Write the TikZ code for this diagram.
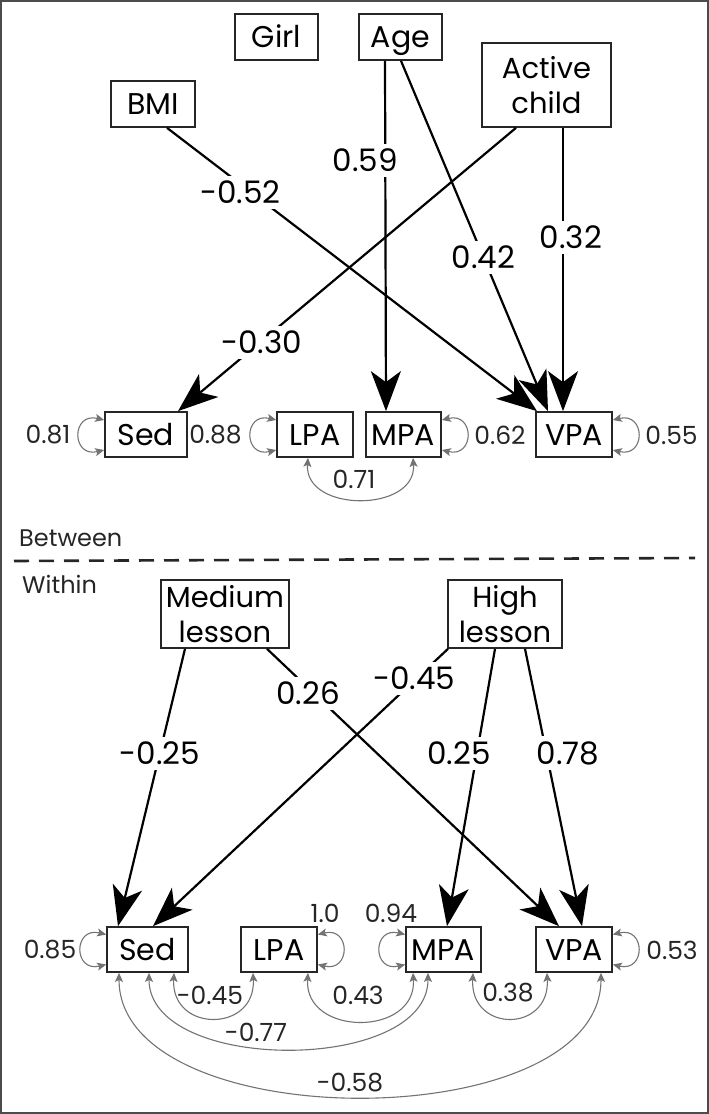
\documentclass[tikz,border=0pt]{standalone}
\usepackage{fontspec}
\setmainfont{Poppins}
\usetikzlibrary{arrows.meta,calc}
\begin{document}
\begin{tikzpicture}[x=1pt,y=-1pt,
  box/.style={draw=black!85, line width=1.7pt, inner sep=0pt, align=center,
    font=\fontsize{30}{35}\selectfont, text height=21pt, text depth=0pt},
  tbox/.style={draw=black!85, line width=1.7pt, inner sep=0pt, align=center,
    font=\fontsize{29}{35}\selectfont},
  sbox/.style={box, minimum width=#1, minimum height=45pt},
  pth/.style={draw=black, line width=2.2pt, -{Stealth[length=40pt,width=30pt,inset=11pt]}},
  cov/.style={draw=black!55, line width=1.1pt,
    {Stealth[length=9pt,width=8pt,inset=2pt]}-{Stealth[length=9pt,width=8pt,inset=2pt]}},
  lab/.style={fill=white, inner sep=5pt, font=\fontsize{31}{31}\selectfont},
  slab/.style={inner sep=0pt, font=\fontsize{25}{25}\selectfont, text=black!85},
]
\useasboundingbox (0,0) rectangle (709,1114);
\draw[black!70, line width=1.5pt] (1,1) rectangle (708,1113);

% ---------- Between level ----------
\node[box, minimum width=83pt, minimum height=46pt] (girl) at (276.5,37) {Girl};
\node[box, minimum width=83pt, minimum height=46pt] (age) at (400.5,37) {Age};
\node[box, minimum width=84pt, minimum height=46pt] (bmi) at (153,104) {BMI};
\node[tbox, minimum width=129pt, minimum height=84pt] (act) at (546.5,85) {Active\\child};

\node[sbox=82pt] (sed1) at (146,434.5) {Sed};
\node[sbox=76pt] (lpa1) at (315,434.5) {LPA};
\node[sbox=75pt] (mpa1) at (403.5,434.5) {MPA};
\node[sbox=76pt] (vpa1) at (574,434.5) {VPA};

\draw[pth] ([xshift=-15.5pt]age.south) -- node[lab, pos=0.284, xshift=-20pt] {0.59} ([xshift=-17.5pt]mpa1.north);
\draw[pth] ([xshift=0.5pt]age.south) -- node[lab, pos=0.56] {0.42} ([xshift=-26pt]vpa1.north);
\draw[pth] ([xshift=16.5pt]act.south) -- node[lab, pos=0.386, xshift=8pt] {0.32} ([xshift=-11pt]vpa1.north);
\draw[pth] ([xshift=-30.5pt]act.south) -- node[lab, pos=0.758, xshift=2pt] {-0.30} ([xshift=32pt]sed1.north);
\draw[pth] ([xshift=14pt]bmi.south) -- node[lab, pos=0.228, xshift=-11pt] {-0.52} ([xshift=-37pt]vpa1.north);

\draw[cov] ([yshift=14.5pt]sed1.west) .. controls +(-33,-8) and +(-33,8) .. ([yshift=-15.5pt]sed1.west);
\draw[cov] ([yshift=14.5pt]lpa1.west) .. controls +(-33,-8) and +(-33,8) .. ([yshift=-15.5pt]lpa1.west);
\draw[cov] ([yshift=14.5pt]mpa1.east) .. controls +(33,-8) and +(33,8) .. ([yshift=-15.5pt]mpa1.east);
\draw[cov] ([yshift=14.5pt]vpa1.east) .. controls +(33,-8) and +(33,8) .. ([yshift=-15.5pt]vpa1.east);
\draw[cov] ([xshift=-7pt]lpa1.south) .. controls +(-4,55) and +(4,55) .. ([xshift=9.5pt]mpa1.south);

\node[slab] (r1) at (48,435) {0.81};
\node[slab] (r2) at (215.5,435) {0.88};
\node[slab] (r3) at (500,435) {0.62};
\node[slab] (r4) at (671.5,435) {0.55};
\node[slab] (c1) at (354,479) {0.71};

% ---------- divider ----------
\node[slab, anchor=west, font=\fontsize{24}{24}\selectfont] (between) at (19,538) {Between};
\coordinate (dl) at (14,561);
\coordinate (dr) at (695,558);
\draw[black!85, line width=2.6pt, dash pattern=on 15pt off 10pt] (dl) -- (dr);
\node[slab, anchor=west, font=\fontsize{24}{24}\selectfont] (within) at (22,584) {Within};

% ---------- Within level ----------
\node[tbox, minimum width=128pt, minimum height=68pt] (med) at (225,614) {Medium\\lesson};
\node[tbox, minimum width=114pt, minimum height=68pt] (high) at (505,614) {High\\lesson};

\node[sbox=81pt] (sed2) at (147.5,949.5) {Sed};
\node[sbox=76pt] (lpa2) at (279,949.5) {LPA};
\node[sbox=75pt] (mpa2) at (443.5,949.5) {MPA};
\node[sbox=76pt] (vpa2) at (574,949.5) {VPA};

\draw[pth] ([xshift=-40pt]med.south) -- node[lab, pos=0.376] {-0.25} ([xshift=-29.5pt]sed2.north);
\draw[pth] ([xshift=-57pt]high.south) -- node[lab, pos=0.1075, xshift=-2pt] {-0.45} ([xshift=5.5pt]sed2.north);
\draw[pth] ([xshift=42pt]med.south) -- node[lab, pos=0.161, xshift=-6pt] {0.26} ([xshift=-15pt]vpa2.north);
\draw[pth] ([xshift=-10pt]high.south) -- node[lab, pos=0.376, xshift=-18pt] {0.25} ([xshift=3.5pt]mpa2.north);
\draw[pth] ([xshift=20pt]high.south) -- node[lab, pos=0.376, xshift=21.5pt] {0.78} ([xshift=8pt]vpa2.north);

\draw[cov] ([yshift=15pt]sed2.west) .. controls +(-33,-8) and +(-33,8) .. ([yshift=-15pt]sed2.west);
\draw[cov] ([yshift=15pt]lpa2.east) .. controls +(33,-8) and +(33,8) .. ([yshift=-15pt]lpa2.east);
\draw[cov] ([yshift=15pt]mpa2.west) .. controls +(-33,-8) and +(-33,8) .. ([yshift=-15pt]mpa2.west);
\draw[cov] ([yshift=15pt]vpa2.east) .. controls +(33,-8) and +(33,8) .. ([yshift=-15pt]vpa2.east);

\draw[cov] ([xshift=26.5pt]sed2.south) .. controls +(-3,60) and +(3,60) .. ([xshift=-26pt]lpa2.south);
\draw[cov] ([xshift=29pt]lpa2.south) .. controls +(-4,64) and +(4,64) .. ([xshift=-30.5pt]mpa2.south);
\draw[cov] ([xshift=29.5pt]mpa2.south) .. controls +(-3,60) and +(3,60) .. ([xshift=-27pt]vpa2.south);
\draw[cov] ([xshift=1.5pt]sed2.south) .. controls +(0,101) and +(0,101) .. ([xshift=-15.5pt]mpa2.south);
\draw[cov] ([xshift=-28.5pt]sed2.south) .. controls +(0,165) and +(0,165) .. ([xshift=27pt]vpa2.south);

\node[slab] (r5) at (50,950) {0.85};
\node[slab] (r6) at (325,913) {1.0};
\node[slab] (r7) at (391,913) {0.94};
\node[slab] (r8) at (672,950) {0.53};
\node[slab] (c2) at (210,995) {-0.45};
\node[slab] (c3) at (358,995) {0.43};
\node[slab] (c4) at (508,993) {0.38};
\node[slab] (c5) at (256,1032) {-0.77};
\node[slab] (c6) at (350,1083) {-0.58};
\end{tikzpicture}
\end{document}
